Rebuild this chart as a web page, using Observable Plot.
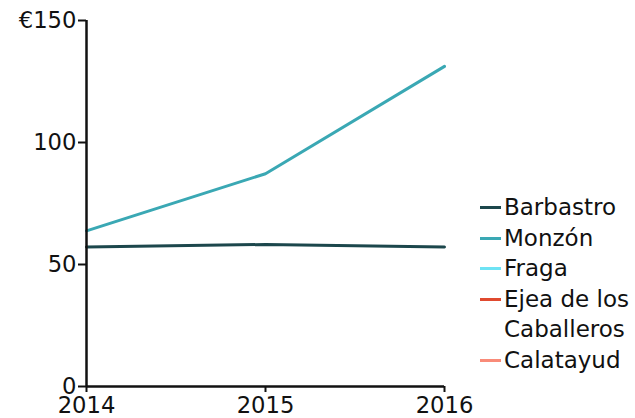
<!DOCTYPE html>
<html><head><meta charset="utf-8">
<script src="https://cdn.jsdelivr.net/npm/d3@7"></script>
<script src="https://cdn.jsdelivr.net/npm/@observablehq/plot@0.6"></script>
<style>
body{margin:0;background:#fff;font-family:"DejaVu Sans",Verdana,sans-serif;}
#wrap{position:relative;width:635px;height:418px;overflow:hidden;}
#legend{position:absolute;left:480px;top:192px;font-size:23px;line-height:30.5px;color:#111;white-space:nowrap;}
.item{display:flex;align-items:flex-start;}
.sw{display:inline-block;width:21px;height:3px;margin-top:14px;margin-right:3px;flex:none;}
</style></head>
<body><div id="wrap"><div id="legend"></div></div>
<script>
const years = [2014, 2015, 2016];
const cities = ["Barbastro", "Monzón", "Fraga", "Ejea de los Caballeros", "Calatayud"];
const colors = ["#1c474c", "#3aa8b4", "#6ee3f4", "#e04a2f", "#f98b79"];
const barbastro = [57.2, 58.2, 57.2];
const monzon = [63.8, 87.2, 131.2];
const fraga = [null, null, null];
const ejea = [null, null, null];
const calatayud = [null, null, null];
const yTicks = [0, 50, 100, 150];

const series = [barbastro, monzon, fraga, ejea, calatayud];
const rows = [];
series.forEach((vals, i) => vals.forEach((v, j) => { if (v != null) rows.push({city: cities[i], year: years[j], value: v}); }));

const chart = Plot.plot({
  width: 635, height: 418,
  marginLeft: 86, marginRight: 191, marginTop: 20, marginBottom: 32,
  style: {fontFamily: '"DejaVu Sans", Verdana, sans-serif', fontSize: "22.7px", color: "#111", background: "#fff", overflow: "visible"},
  x: {domain: [2014, 2016], ticks: years, tickFormat: d => String(d), label: null},
  y: {domain: [0, 150], ticks: yTicks, label: null},
  color: {domain: cities, range: colors},
  marks: [
    Plot.line(rows, {x: "year", y: "value", z: "city", stroke: "city", strokeWidth: 3}),
    Plot.ruleX([2014], {stroke: "#111", strokeWidth: 2.5}),
    Plot.ruleY([0], {stroke: "#111", strokeWidth: 2.5}),
    Plot.axisY({ticks: yTicks, tickSize: 8, tickPadding: 2, strokeWidth: 2, stroke: "#111", fill: "#111",
      tickFormat: d => d === 150 ? "€150" : String(d), label: null}),
    Plot.axisX({ticks: years, tickSize: 6, tickPadding: 4, strokeWidth: 2, stroke: "#111", fill: "#111",
      tickFormat: d => String(d), label: null})
  ]
});
document.getElementById("wrap").prepend(chart);
const lg = document.getElementById("legend");
const labels = ["Barbastro", "Monzón", "Fraga", "Ejea de los<br>Caballeros", "Calatayud"];
cities.forEach((c, i) => {
  const d = document.createElement("div");
  d.className = "item";
  d.innerHTML = `<span class="sw" style="background:${colors[i]}"></span><span>${labels[i]}</span>`;
  lg.appendChild(d);
});
</script></body></html>
